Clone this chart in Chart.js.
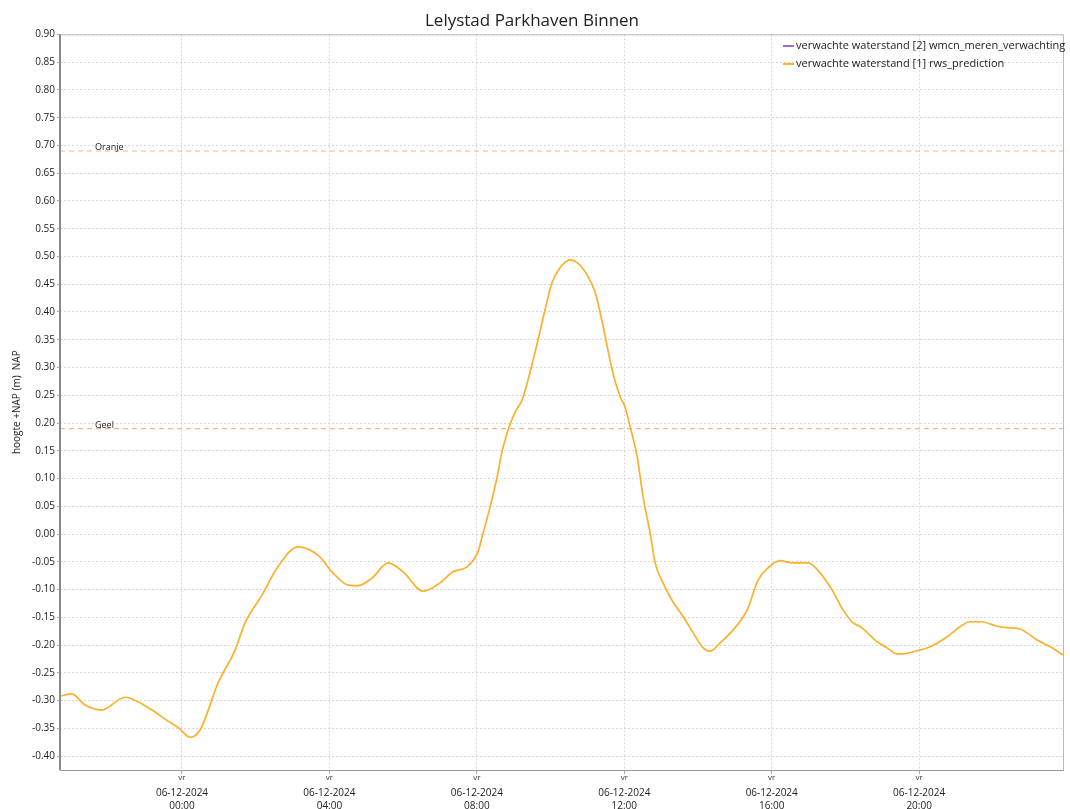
<!DOCTYPE html>
<html>
<head>
<meta charset="utf-8">
<script src="https://cdn.jsdelivr.net/npm/chart.js@4/dist/chart.umd.min.js"></script>
<style>
html,body{margin:0;padding:0;background:#fff;}
#wrap{width:1070px;height:809px;position:relative;}
</style>
</head>
<body>
<div id="wrap"><canvas id="c" width="1070" height="809"></canvas></div>
<script>
// ---- data (hours relative to 06-12-2024 00:00) ----
const hours = [-3.31,-2.99,-2.63,-2.18,-1.55,-0.82,-0.38,-0.11,0.22,0.49,0.98,1.44,1.71,2.17,2.58,3.15,3.69,4.07,4.51,4.78,5.16,5.59,6.00,6.54,7.00,7.35,7.73,8.03,8.17,8.36,8.55,8.68,8.85,9.04,9.23,9.39,9.66,9.85,10.04,10.26,10.53,10.72,10.99,11.21,11.43,11.67,11.89,12.02,12.16,12.35,12.51,12.70,12.84,13.05,13.32,13.60,13.87,14.14,14.33,14.60,14.95,15.33,15.63,15.90,16.23,16.58,16.99,17.31,17.64,17.94,18.18,18.45,18.86,19.13,19.40,19.57,19.84,20.30,20.76,21.11,21.38,21.66,22.12,22.47,22.74,22.93,23.20,23.56,23.91];
const waterLevel = [-0.292,-0.288,-0.308,-0.317,-0.294,-0.317,-0.337,-0.348,-0.366,-0.353,-0.268,-0.209,-0.160,-0.110,-0.061,-0.023,-0.038,-0.068,-0.092,-0.093,-0.079,-0.052,-0.068,-0.103,-0.088,-0.068,-0.059,-0.032,0.002,0.049,0.103,0.148,0.188,0.220,0.242,0.278,0.350,0.404,0.453,0.480,0.494,0.489,0.467,0.435,0.373,0.296,0.247,0.229,0.193,0.139,0.067,0.002,-0.052,-0.088,-0.122,-0.149,-0.178,-0.205,-0.211,-0.196,-0.173,-0.137,-0.083,-0.061,-0.048,-0.052,-0.052,-0.070,-0.101,-0.137,-0.158,-0.169,-0.194,-0.205,-0.216,-0.216,-0.212,-0.203,-0.185,-0.167,-0.158,-0.158,-0.166,-0.169,-0.171,-0.178,-0.191,-0.203,-0.218];
const wmcnLevel = [];
const seriesLabels = ['verwachte waterstand [2] wmcn_meren_verwachting','verwachte waterstand [1] rws_prediction'];
const thresholdNames = ['Oranje','Geel'];
const thresholdValues = [0.69, 0.19];
const xTickHours = [0,4,8,12,16,20];
const xTickDates = ['06-12-2024','06-12-2024','06-12-2024','06-12-2024','06-12-2024','06-12-2024'];
const xTickTimes = ['00:00','04:00','08:00','12:00','16:00','20:00'];
const yTickValues = [0.90,0.85,0.80,0.75,0.70,0.65,0.60,0.55,0.50,0.45,0.40,0.35,0.30,0.25,0.20,0.15,0.10,0.05,0.00,-0.05,-0.10,-0.15,-0.20,-0.25,-0.30,-0.35,-0.40];
const X_MIN = -3.31, X_MAX = 23.93, Y_MIN = -0.425, Y_MAX = 0.90;

const FONT = '"Open Sans", "Noto Sans", sans-serif';
const seriesColors = ['#9b6be0','#fbb12a'];
const thresholdColor = '#f6b48a';

const datasets = [
  { label: seriesLabels[0], data: wmcnLevel, borderColor: seriesColors[0], borderWidth: 2, pointRadius: 0 },
  { label: seriesLabels[1], data: hours.map((h,i)=>({x:h,y:waterLevel[i]})), borderColor: seriesColors[1], borderWidth: 1.7, pointRadius: 0, cubicInterpolationMode: 'monotone' }
];
thresholdValues.forEach((v,i)=>{
  datasets.push({ label: thresholdNames[i], isThreshold: true, data: [{x:X_MIN,y:v},{x:X_MAX,y:v}], borderColor: thresholdColor, borderWidth: 1.2, borderDash:[5,4], pointRadius:0 });
});

const extras = {
  id: 'extras',
  afterDraw(chart){
    const ctx = chart.ctx, a = chart.chartArea, xs = chart.scales.x, ys = chart.scales.y;
    ctx.save();
    ctx.setLineDash([]);
    // top/right border
    ctx.strokeStyle = '#b8b8b8'; ctx.lineWidth = 1;
    ctx.beginPath(); ctx.moveTo(a.left, a.top+0.5); ctx.lineTo(a.right-0.5, a.top+0.5); ctx.lineTo(a.right-0.5, a.bottom); ctx.stroke();
    // left axis line
    ctx.strokeStyle = '#8a8a8a'; ctx.lineWidth = 2;
    ctx.beginPath(); ctx.moveTo(a.left, a.top); ctx.lineTo(a.left, a.bottom); ctx.stroke();
    // bottom axis line
    ctx.strokeStyle = '#9a9a9a'; ctx.lineWidth = 1;
    ctx.beginPath(); ctx.moveTo(a.left, a.bottom+0.5); ctx.lineTo(a.right, a.bottom+0.5); ctx.stroke();
    // threshold labels
    ctx.fillStyle = '#222'; ctx.font = '9px ' + FONT; ctx.textAlign = 'left'; ctx.textBaseline = 'bottom';
    thresholdValues.forEach((v,i)=>{ ctx.fillText(thresholdNames[i], 95, ys.getPixelForValue(v)+1); });
    // "vr" above x tick labels
    ctx.font = '8px ' + FONT; ctx.textAlign = 'center'; ctx.textBaseline = 'middle'; ctx.fillStyle = '#333';
    xTickHours.forEach(h=>{ ctx.fillText('vr', xs.getPixelForValue(h), a.bottom + 8); });
    // legend
    ctx.font = '11px ' + FONT; ctx.textAlign = 'left'; ctx.textBaseline = 'middle';
    seriesLabels.forEach((lab,i)=>{
      const y = 46 + i*18;
      ctx.strokeStyle = seriesColors[i]; ctx.lineWidth = 2;
      ctx.beginPath(); ctx.moveTo(783, y); ctx.lineTo(794, y); ctx.stroke();
      ctx.fillStyle = '#222'; ctx.fillText(lab, 796, y);
    });
    ctx.restore();
  }
};

new Chart(document.getElementById('c'), {
  type: 'line',
  data: { datasets },
  plugins: [extras],
  options: {
    responsive: false, animation: false,
    layout: { padding: { left: 0, right: 6, top: 0, bottom: 0 } },
    plugins: {
      legend: { display: false },
      tooltip: { enabled: false },
      title: { display: true, text: 'Lelystad Parkhaven Binnen', color: '#222', font: { family: FONT, size: 17, weight: 'normal' }, padding: { top: 11, bottom: 3 } }
    },
    scales: {
      x: {
        type: 'linear', min: X_MIN, max: X_MAX,
        afterBuildTicks(s){ s.ticks = xTickHours.map(v=>({value:v})); },
        afterFit(s){ s.height = 39; },
        border: { display: false, dash: [2,2] },
        grid: { color: '#d6d6d6', tickLength: 4, tickColor: '#aaa', tickBorderDash: [] },
        ticks: {
          autoSkip: false, maxRotation: 0, padding: 13, color: '#222',
          font: { family: FONT, size: 10, lineHeight: 1.3 },
          callback(v){ const i = xTickHours.indexOf(v); return i<0 ? '' : [xTickDates[i], xTickTimes[i]]; }
        }
      },
      y: {
        type: 'linear', min: Y_MIN, max: Y_MAX,
        afterBuildTicks(s){ s.ticks = yTickValues.map(v=>({value:v})); },
        afterFit(s){ s.width = 60; },
        border: { display: false, dash: [2,2] },
        grid: { color: '#d6d6d6', tickLength: 3, tickColor: '#aaa', tickBorderDash: [] },
        title: { display: true, text: 'hoogte +NAP (m)  NAP', color: '#222', font: { family: FONT, size: 10 }, padding: { top: 11, bottom: 4 } },
        ticks: { autoSkip: false, padding: 2, color: '#222', font: { family: FONT, size: 10 }, callback(v){ return Number(v).toFixed(2); } }
      }
    }
  }
});
</script>
</body>
</html>
